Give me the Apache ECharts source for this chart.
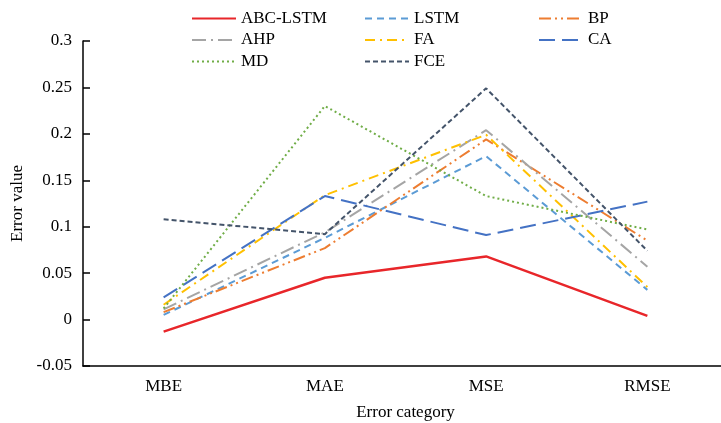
<!DOCTYPE html>
<html>
<head>
<meta charset="utf-8">
<script src="https://cdn.jsdelivr.net/npm/echarts@6/dist/echarts.min.js"></script>
<style>
  html, body { margin: 0; padding: 0; background: #fff; }
  #chart { width: 721px; height: 423px; }
</style>
</head>
<body>
<div id="chart"></div>
<script>
// data
const categories = ['MBE', 'MAE', 'MSE', 'RMSE']
const abcLstm = [-0.013, 0.045, 0.068, 0.004]
const lstm = [0.005, 0.088, 0.176, 0.032]
const bp = [0.008, 0.077, 0.194, 0.085]
const ahp = [0.011, 0.094, 0.204, 0.057]
const fa = [0.016, 0.134, 0.199, 0.035]
const ca = [0.024, 0.133, 0.091, 0.127]
const md = [0.012, 0.230, 0.133, 0.097]
const fce = [0.108, 0.092, 0.249, 0.074]

const font = 'Liberation Serif'

const line = (name, data, color, type, width) => ({
  name,
  type: 'line',
  data,
  symbol: 'none',
  lineStyle: { color, type, width: width || 2 },
  itemStyle: { color },
  emphasis: { disabled: true }
})

const legendBase = {
  orient: 'vertical',
  top: 5,
  itemWidth: 44,
  itemHeight: 14,
  itemGap: 4.5,
  itemStyle: { opacity: 0 },
  textStyle: { fontFamily: font, fontSize: 17, color: '#000' }
}

const option = {
  animation: false,
  legend: [
    Object.assign({}, legendBase, { left: 186, data: ['ABC-LSTM', 'AHP', 'MD'] }),
    Object.assign({}, legendBase, { left: 359, data: ['LSTM', 'FA', 'FCE'] }),
    Object.assign({}, legendBase, { left: 533, data: ['BP', 'CA'] })
  ],
  grid: { left: 83, right: -7, top: 41, bottom: 57, containLabel: false, outerBoundsMode: 'none' },
  xAxis: {
    type: 'category',
    data: categories,
    boundaryGap: true,
    name: 'Error category',
    nameLocation: 'middle',
    nameGap: 38,
    nameTextStyle: { fontFamily: font, fontSize: 17, color: '#000' },
    axisLine: { onZero: false, lineStyle: { color: '#000', width: 1.5 } },
    axisTick: { inside: true, length: 6, lineStyle: { color: '#000', width: 1.5 } },
    axisLabel: { fontFamily: font, fontSize: 17, color: '#000', margin: 12 }
  },
  yAxis: {
    type: 'value',
    min: -0.05,
    max: 0.3,
    interval: 0.05,
    name: 'Error value',
    nameLocation: 'middle',
    nameGap: 55,
    nameTextStyle: { fontFamily: font, fontSize: 17, color: '#000' },
    splitLine: { show: false },
    axisLine: { show: true, lineStyle: { color: '#000', width: 1.5 } },
    axisTick: { show: true, inside: true, length: 7, lineStyle: { color: '#000', width: 1.5 } },
    axisLabel: { fontFamily: font, fontSize: 17, color: '#000', margin: 11 }
  },
  series: [
    line('ABC-LSTM', abcLstm, '#e8262a', 'solid', 2.5),
    line('LSTM', lstm, '#5b9bd5', [7, 5]),
    line('BP', bp, '#ed7d31', [12, 4, 2, 4, 2, 4]),
    line('AHP', ahp, '#a5a5a5', [14, 5, 2, 5]),
    line('FA', fa, '#ffc000', [10, 5, 2, 5]),
    line('CA', ca, '#4472c4', [16, 7]),
    line('MD', md, '#70ad47', [2, 3]),
    line('FCE', fce, '#44546a', [5, 3])
  ]
}

const chart = echarts.init(document.getElementById('chart'))
chart.setOption(option)
</script>
</body>
</html>
